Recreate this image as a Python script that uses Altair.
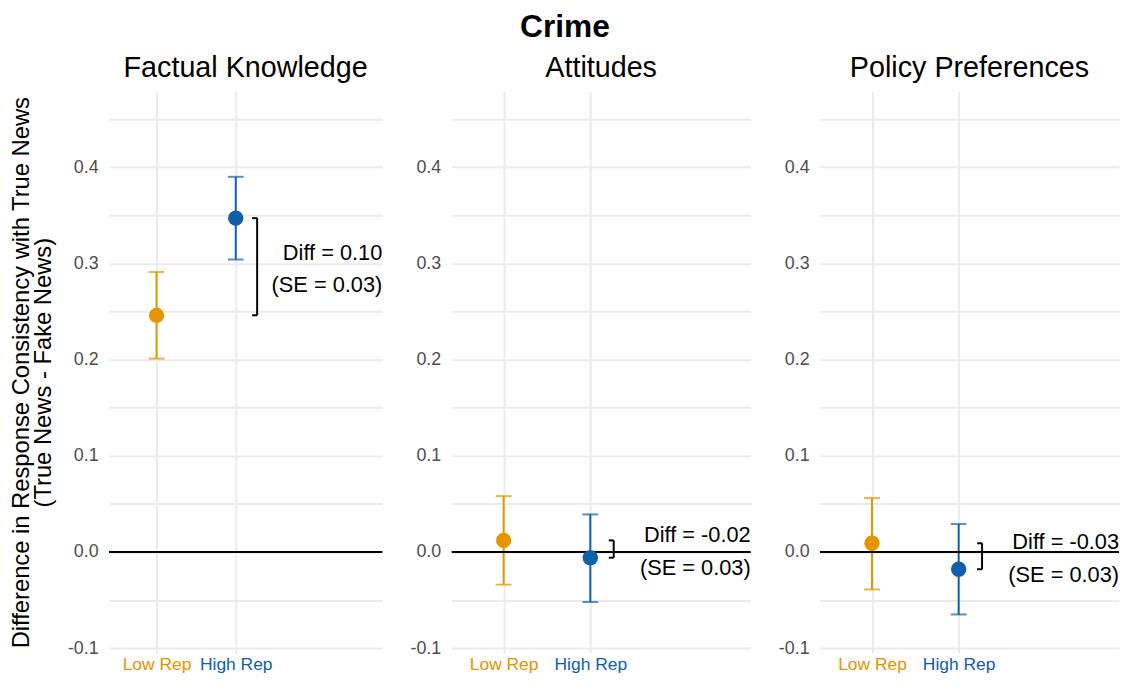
import altair as alt
import pandas as pd

# ---------------- data ----------------
panels = ["Factual Knowledge", "Attitudes", "Policy Preferences"]
groups = ["Low Rep", "High Rep"]
group_pos = [1, 2]

est_low = [0.246, 0.012, 0.009]
ci_low_lower = [0.201, -0.034, -0.039]
ci_low_upper = [0.291, 0.058, 0.056]

est_high = [0.347, -0.006, -0.018]
ci_high_lower = [0.304, -0.052, -0.065]
ci_high_upper = [0.390, 0.039, 0.029]

diff_text = ["Diff = 0.10", "Diff = -0.02", "Diff = -0.03"]
se_text = ["(SE = 0.03)", "(SE = 0.03)", "(SE = 0.03)"]

y_ticks = [-0.1, -0.05, 0.0, 0.05, 0.1, 0.15, 0.2, 0.25, 0.3, 0.35, 0.4, 0.45]
y_title = ["Difference in Response Consistency with True News", "(True News - Fake News)"]
main_title = "Crime"

# ---------------- style ----------------
ORANGE = "#E69400"
BLUE = "#0F60AB"
FONT = "Liberation Sans"
X_DOMAIN = [0.4, 3.85]
Y_DOMAIN = [-0.105, 0.4787]
BRACKET_X = 2.27
GRID = "#EBEBEB"
NBSP = "\u00A0"
PLOT_H = 567

label_expr_y = (
    "abs(round(datum.value*100)) % 10 == 0 ? "
    "replace(format(datum.value, '.1f'), '\u2212', '-') : ''"
)
label_expr_x = f"datum.value == 1 ? '{groups[0]}' : '{groups[1]}'"

# the two title lines sit slightly offset from each other in the reference
y_title_lines = [y_title[0] + NBSP * 5, NBSP * 3 + y_title[1]]


def panel_chart(i, width):
    pts = pd.DataFrame({
        "group": groups,
        "x": group_pos,
        "est": [est_low[i], est_high[i]],
        "lo": [ci_low_lower[i], ci_high_lower[i]],
        "hi": [ci_low_upper[i], ci_high_upper[i]],
    })
    br = pd.DataFrame({
        "bx": [BRACKET_X],
        "y1": [est_high[i]],
        "y2": [est_low[i]],
        "ymid": [(est_high[i] + est_low[i]) / 2],
        "tx": [X_DOMAIN[1]],
        "diff": [diff_text[i]],
        "se": [se_text[i]],
    })
    br_ends = pd.DataFrame({"bx": [BRACKET_X, BRACKET_X], "y": [est_high[i], est_low[i]]})
    zero = pd.DataFrame({"y": [0.0]})

    xscale = alt.Scale(domain=X_DOMAIN, nice=False, zero=False)
    yscale = alt.Scale(domain=Y_DOMAIN, nice=False, zero=False)
    cscale = alt.Scale(domain=groups, range=[ORANGE, BLUE])

    yaxis = alt.Axis(
        values=y_ticks, labelExpr=label_expr_y, labelOverlap=False, labelFlush=False,
        domain=False, ticks=False, grid=True, gridColor=GRID, gridWidth=2,
        labelFontSize=18, labelColor="#4D4D4D", labelFont=FONT, labelPadding=11,
        title=y_title_lines if i == 0 else None,
        titleFontSize=24, titleFont=FONT, titleFontWeight="normal", titleColor="black",
        titlePadding=12, titleLineHeight=22,
    )
    xaxis = alt.Axis(
        values=group_pos, labelExpr=label_expr_x, labelFlush=False, labelOverlap=False,
        domain=False, ticks=False, grid=True, gridColor=GRID, gridWidth=2,
        labelFontSize=17.6, labelFont=FONT, labelPadding=3, title=None,
        labelColor={"condition": {"test": "datum.value == 1", "value": ORANGE}, "value": BLUE},
    )

    base = alt.Chart(pts)
    err = base.mark_rule(strokeWidth=2).encode(
        x=alt.X("x:Q", scale=xscale, axis=xaxis),
        y=alt.Y("lo:Q", scale=yscale, axis=yaxis),
        y2="hi:Q",
        color=alt.Color("group:N", scale=cscale, legend=None),
    )
    zline = alt.Chart(zero).mark_rule(color="black", strokeWidth=2).encode(y="y:Q")
    cap_lo = base.mark_tick(orient="horizontal", size=16, thickness=2).encode(
        x="x:Q", y="lo:Q", color=alt.Color("group:N", scale=cscale, legend=None))
    cap_hi = base.mark_tick(orient="horizontal", size=16, thickness=2).encode(
        x="x:Q", y="hi:Q", color=alt.Color("group:N", scale=cscale, legend=None))
    dots = base.mark_circle(size=240, opacity=1).encode(
        x="x:Q", y="est:Q", color=alt.Color("group:N", scale=cscale, legend=None))

    bvert = alt.Chart(br).mark_rule(color="black", strokeWidth=2).encode(
        x="bx:Q", y="y1:Q", y2="y2:Q")
    bends = alt.Chart(br_ends).mark_rule(color="black", strokeWidth=2, xOffset=-5).encode(
        x="bx:Q", x2="bx:Q", y="y:Q")
    t1 = alt.Chart(br).mark_text(align="right", baseline="middle", dy=-14,
                                 fontSize=22, font=FONT, color="black").encode(
        x="tx:Q", y="ymid:Q", text="diff:N")
    t2 = alt.Chart(br).mark_text(align="right", baseline="middle", dy=19,
                                 fontSize=22, font=FONT, color="black").encode(
        x="tx:Q", y="ymid:Q", text="se:N")

    return alt.layer(err, zline, cap_lo, cap_hi, dots, bvert, bends, t1, t2).properties(
        width=width, height=PLOT_H,
        title=alt.TitleParams(panels[i], fontSize=29, font=FONT, fontWeight="normal",
                              color="black", anchor="middle", offset=9),
    )


chart = alt.hconcat(
    panel_chart(0, 276), panel_chart(1, 302), panel_chart(2, 302), spacing=26
).properties(
    title=alt.TitleParams(main_title, fontSize=32, font=FONT, fontWeight="bold",
                          color="black", anchor="middle", offset=10),
    padding={"left": 1, "top": 0, "right": 0, "bottom": 0},
).configure_view(stroke=None).configure_concat(spacing=26)

chart.save("out.html", embed_options={"renderer": "svg", "actions": False})
